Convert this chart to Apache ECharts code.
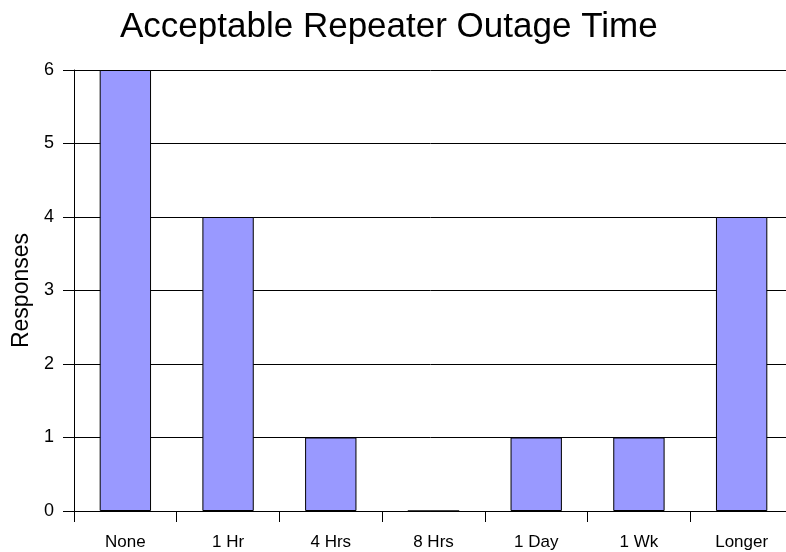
<!DOCTYPE html>
<html>
<head>
<meta charset="utf-8">
<script src="https://cdn.jsdelivr.net/npm/echarts@6/dist/echarts.min.js"></script>
<style>html,body{margin:0;padding:0;background:#fff}#c{width:786px;height:552px}</style>
</head>
<body>
<div id="c"></div>
<script>
var categories = ['None', '1 Hr', '4 Hrs', '8 Hrs', '1 Day', '1 Wk', 'Longer'];
var responses = [6, 4, 1, 0, 1, 1, 4];
var yTicks = [0, 1, 2, 3, 4, 5, 6];

var chart = echarts.init(document.getElementById('c'), null, {renderer: 'canvas'});
var font = 'Arial, "Liberation Sans", sans-serif';
chart.setOption({
  animation: false,
  backgroundColor: '#fff',
  title: {
    text: 'Acceptable Repeater Outage Time',
    left: 115, top: 5,
    textStyle: {fontFamily: font, fontSize: 35, fontWeight: 'normal', color: '#000'}
  },
  grid: {left: 74, top: 70, width: 719, bottom: 41, containLabel: false, outerBoundsMode: 'none'},
  xAxis: {
    type: 'category',
    data: categories,
    boundaryGap: true,
    axisLine: {lineStyle: {color: '#000', width: 1}},
    axisTick: {show: true, length: 11, lineStyle: {color: '#000'}},
    axisLabel: {fontFamily: font, fontSize: 17, color: '#000', margin: 23, interval: 0},
    splitLine: {show: false}
  },
  yAxis: {
    type: 'value',
    min: yTicks[0], max: yTicks[yTicks.length - 1], interval: 1,
    name: 'Responses',
    nameLocation: 'middle',
    nameGap: 39,
    nameRotate: 90,
    nameTextStyle: {fontFamily: font, fontSize: 23, color: '#000'},
    axisLine: {show: true, lineStyle: {color: '#000', width: 1}},
    axisTick: {show: true, length: 11, inside: false, lineStyle: {color: '#000'}},
    axisLabel: {fontFamily: font, fontSize: 18, color: '#000', margin: 20},
    splitLine: {show: true, lineStyle: {color: '#000', width: 1}}
  },
  series: [{
    type: 'bar',
    data: responses,
    barWidth: '50%',
    itemStyle: {color: '#9999FF', borderColor: '#000', borderWidth: 1}
  }]
});
</script>
</body>
</html>
